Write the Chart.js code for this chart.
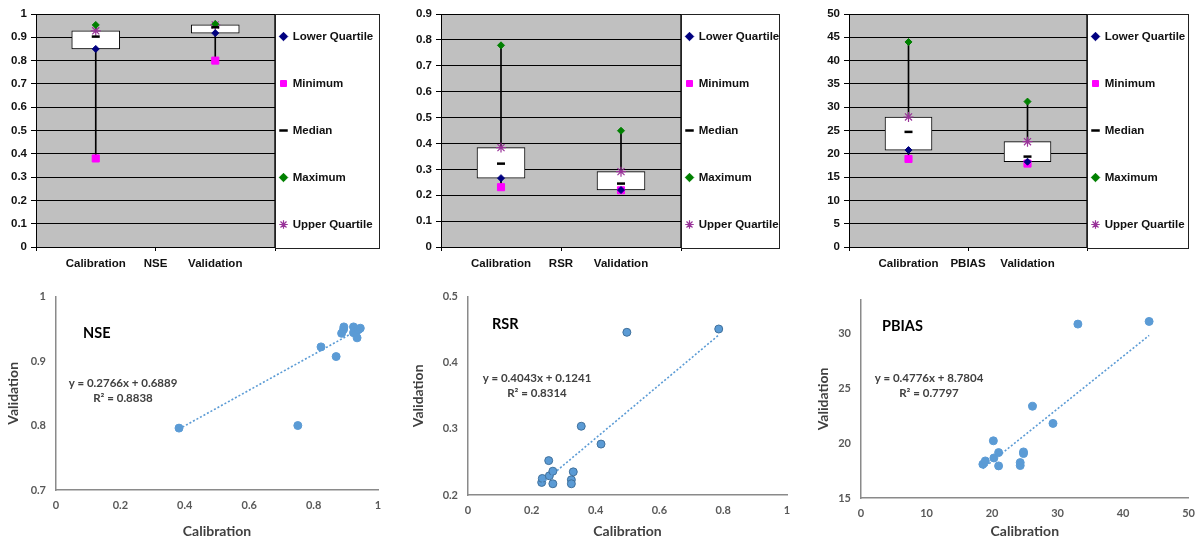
<!DOCTYPE html>
<html><head><meta charset="utf-8">
<script src="https://cdn.jsdelivr.net/npm/chart.js@4/dist/chart.umd.min.js"></script>
<style>
html,body{margin:0;padding:0;background:#fff;width:1204px;height:542px;overflow:hidden;position:relative}
canvas{position:absolute}
</style></head><body>
<canvas id="c1" width="386" height="280" style="left:0px;top:0px"></canvas>
<canvas id="c2" width="386" height="280" style="left:400px;top:0px"></canvas>
<canvas id="c3" width="390" height="280" style="left:805px;top:0px"></canvas>
<canvas id="c4" width="395" height="262" style="left:0px;top:280px"></canvas>
<canvas id="c5" width="400" height="262" style="left:400px;top:280px"></canvas>
<canvas id="c6" width="404" height="262" style="left:800px;top:280px"></canvas>
<script>
// ---------- data ----------
const boxCategories = ['Calibration', 'Validation'];
const statNames = ['Lower Quartile', 'Minimum', 'Median', 'Maximum', 'Upper Quartile'];

const nseMin    = [0.38, 0.80];
const nseQ1     = [0.85, 0.918];
const nseMedian = [0.903, 0.943];
const nseQ3     = [0.928, 0.953];
const nseMax    = [0.953, 0.957];

const rsrMin    = [0.231, 0.219];
const rsrQ1     = [0.266, 0.220];
const rsrMedian = [0.322, 0.245];
const rsrQ3     = [0.384, 0.291];
const rsrMax    = [0.779, 0.449];

const pbiasMin    = [18.9, 17.9];
const pbiasQ1     = [20.8, 18.3];
const pbiasMedian = [24.7, 19.4];
const pbiasQ3     = [27.9, 22.6];
const pbiasMax    = [44.0, 31.2];

const nseCal = [0.382, 0.751, 0.823, 0.870, 0.887, 0.893, 0.894, 0.924, 0.924, 0.933, 0.935, 0.940, 0.945];
const nseVal = [0.796, 0.800, 0.922, 0.907, 0.943, 0.949, 0.953, 0.953, 0.944, 0.946, 0.936, 0.949, 0.951];
const nseFit = [0.2766, 0.6889];
const nseR2 = '0.8838';

const rsrCal = [0.231, 0.233, 0.253, 0.255, 0.266, 0.266, 0.324, 0.324, 0.330, 0.355, 0.417, 0.498, 0.786];
const rsrVal = [0.219, 0.225, 0.252, 0.229, 0.236, 0.217, 0.223, 0.217, 0.235, 0.304, 0.277, 0.446, 0.451];
const rsrFit = [0.4043, 0.1241];
const rsrR2 = '0.8314';

const pbiasCal = [18.6, 18.97, 20.28, 20.2, 21.0, 21.0, 24.3, 24.3, 24.8, 24.8, 26.17, 29.3, 33.1, 43.97];
const pbiasVal = [18.07, 18.37, 18.64, 20.2, 19.13, 17.92, 18.22, 17.95, 19.19, 19.04, 23.34, 21.78, 30.81, 31.05];
const pbiasFit = [0.4776, 8.7804];
const pbiasR2 = '0.7797';

// ---------- helpers ----------
Chart.defaults.font.family = "'Liberation Sans', Arial, sans-serif";
const fmt = v => String(+Number(v).toFixed(3));

const framePlugin = {
  id: 'frame',
  beforeDraw(chart, args, opts) {
    if (!opts.bg) return;
    const {ctx, chartArea: a} = chart;
    ctx.save();
    ctx.fillStyle = opts.bg;
    ctx.fillRect(a.left, a.top, a.width, a.height);
    ctx.strokeStyle = opts.border || '#444';
    ctx.lineWidth = 1;
    ctx.strokeRect(Math.round(a.left) + 0.5, Math.round(a.top) + 0.5, Math.round(a.width) - 1, Math.round(a.height));
    ctx.restore();
  },
  afterDraw(chart, args, opts) {
    const ctx = chart.ctx;
    if (opts.legendBox) {
      const lg = chart.legend, a = chart.chartArea;
      ctx.save();
      ctx.strokeStyle = '#222';
      ctx.lineWidth = 1;
      ctx.strokeRect(Math.round(lg.left) + 0.5, Math.round(a.top) + 0.5, Math.round(lg.width) - 1, Math.round(a.height) + 1);
      ctx.restore();
    }
    if (opts.texts) {
      ctx.save();
      ctx.textBaseline = 'middle';
      opts.texts.forEach(t => {
        ctx.font = t.font;
        ctx.fillStyle = t.color;
        ctx.textAlign = t.align;
        ctx.fillText(t.text, t.x, t.y);
      });
      ctx.restore();
    }
  }
};
Chart.register(framePlugin);

function boxChart(id, o) {
  const xs = boxCategories.map((_, i) => i + 0.5);
  const pts = arr => arr.map((v, i) => ({x: xs[i], y: v}));
  const markerDefs = [
    {data: o.q1,  ps: 'rectRot', color: '#000080', r: 3.5, bw: 1},
    {data: o.min, ps: 'rect',    color: '#FF00FF', r: 5,   bw: 1},
    {data: o.med, ps: 'line',    color: '#000000', r: 4,   bw: 2.5},
    {data: o.max, ps: 'rectRot', color: '#008000', r: 3.5, bw: 1},
    {data: o.q3,  ps: 'star',    color: '#993399', r: 5,   bw: 1.2}
  ];
  const markers = markerDefs.map((m, i) => ({
    type: 'scatter', label: statNames[i], data: pts(m.data), isMarker: true,
    pointStyle: m.ps, pointRadius: m.r, pointHoverRadius: m.r,
    backgroundColor: m.color, borderColor: m.color, borderWidth: m.bw
  }));
  const defGen = Chart.defaults.plugins.legend.labels.generateLabels;
  new Chart(document.getElementById(id), {
    type: 'bar',
    data: {datasets: [
      ...markers,
      {type: 'bar', label: 'box', data: xs.map((x, i) => ({x, y: [o.q1[i], o.q3[i]]})),
       backgroundColor: '#FFFFFF', borderColor: '#000000', borderWidth: 1, borderSkipped: false,
       barThickness: o.boxW, grouped: false},
      {type: 'bar', label: 'range', data: xs.map((x, i) => ({x, y: [o.min[i], o.max[i]]})),
       backgroundColor: '#000000', borderWidth: 0, barThickness: 1, grouped: false}
    ]},
    options: {
      responsive: false, animation: false, devicePixelRatio: 1,
      layout: {padding: {left: o.pl, right: o.pr, top: 14, bottom: 0}},
      plugins: {
        tooltip: {enabled: false},
        frame: {bg: '#C0C0C0', border: '#404040', legendBox: true},
        legend: {
          position: 'right', align: 'center', fullSize: false, maxWidth: o.legendW,
          labels: {
            usePointStyle: true, boxWidth: 7, boxHeight: 6, padding: 5, color: '#111',
            font: {size: 11.5, weight: 'bold', lineHeight: 21 / 11.5},
            filter: (item, data) => !!data.datasets[item.datasetIndex].isMarker,
            generateLabels: chart => defGen(chart).map(it => {
              if (it.datasetIndex < 4) it.text = [it.text, ''];
              return it;
            })
          }
        }
      },
      scales: {
        x: {
          type: 'linear', min: 0, max: 2, offset: false,
          afterBuildTicks: s => { s.ticks = [0, 0.5, 1, 1.5, 2].map(v => ({value: v})); },
          afterFit: s => { s.height = 33; },
          ticks: {
            autoSkip: false, maxRotation: 0, minRotation: 0, padding: 6, color: '#111',
            font: {size: 11.5, weight: 'bold'},
            callback: v => v === 0.5 ? boxCategories[0] : v === 1.5 ? boxCategories[1] : v === 1 ? o.name : ''
          },
          grid: {
            drawOnChartArea: false, offset: false, drawTicks: true, tickLength: 4, color: '#000',
            tickColor: c => (c.tick && Number.isInteger(c.tick.value)) ? '#000' : 'rgba(0,0,0,0)'
          },
          border: {color: '#000', width: 1}
        },
        y: {
          type: 'linear', min: 0, max: o.ymax,
          afterFit: s => { s.width = o.wy; },
          ticks: {stepSize: o.step, padding: 4, color: '#111', font: {size: 11.5, weight: 'bold'}, callback: fmt},
          grid: {color: '#000', lineWidth: 1, drawTicks: true, tickLength: 5},
          border: {color: '#000', width: 1}
        }
      }
    }
  });
}

function scatterChart(id, o) {
  const pts = o.cal.map((c, i) => ({x: c, y: o.val[i]}));
  const lo = Math.min(...o.cal), hi = Math.max(...o.cal);
  const trend = [lo, hi].map(x => ({x, y: o.fit[0] * x + o.fit[1]}));
  const tickFont = {family: 'Lato', size: 11, weight: 'bold'};
  const titleFont = {family: 'Lato', size: 14, weight: 'bold'};
  new Chart(document.getElementById(id), {
    type: 'scatter',
    data: {datasets: [
      {type: 'line', data: trend, borderColor: '#5B9BD5', borderWidth: 1.6, borderDash: [2, 2],
       pointRadius: 0, fill: false},
      {data: pts, backgroundColor: '#5B9BD5', borderColor: o.ptBorder, borderWidth: 1, pointRadius: 4}
    ]},
    options: {
      responsive: false, animation: false, devicePixelRatio: 1,
      layout: {padding: {left: o.pl, right: o.pr, top: o.pt, bottom: 0}},
      plugins: {
        legend: {display: false}, tooltip: {enabled: false},
        frame: {texts: [
          {text: o.name, x: o.nameX, y: o.nameY, align: 'left', font: 'bold 14.5px Lato', color: '#000'},
          {text: 'y = ' + o.fit[0] + 'x + ' + o.fit[1], x: o.eqX, y: o.eqY, align: 'center', font: 'bold 11.5px Lato', color: '#404040'},
          {text: 'R\u00B2 = ' + o.r2, x: o.eqX, y: o.eqY + 15, align: 'center', font: 'bold 11.5px Lato', color: '#404040'}
        ]}
      },
      scales: {
        x: {
          type: 'linear', min: o.xmin, max: o.xmax,
          afterFit: s => { s.height = o.xh; },
          ticks: {stepSize: o.xstep, padding: 9, color: '#595959', font: tickFont, includeBounds: false, maxRotation: 0, callback: fmt},
          grid: {display: false, drawTicks: false},
          border: {color: '#8A8A8A', width: 1.5},
          title: {display: true, text: 'Calibration', color: '#404040', font: titleFont, padding: {top: 0, bottom: 2}}
        },
        y: {
          type: 'linear', min: o.ymin, max: o.ymax,
          afterFit: s => { s.width = o.wy; },
          ticks: {stepSize: o.ystep, padding: 10, color: '#595959', font: tickFont, includeBounds: false, callback: fmt},
          grid: {display: false, drawTicks: false},
          border: {color: '#8A8A8A', width: 1.5},
          title: {display: true, text: 'Validation', color: '#404040', font: titleFont, padding: {top: 5, bottom: 0}}
        }
      }
    }
  });
}

// ---------- top: box plots ----------
boxChart('c1', {name: 'NSE', q1: nseQ1, min: nseMin, med: nseMedian, max: nseMax, q3: nseQ3,
  ymax: 1, step: 0.1, wy: 36, pl: 0, pr: 6, legendW: 105, boxW: 48});
boxChart('c2', {name: 'RSR', q1: rsrQ1, min: rsrMin, med: rsrMedian, max: rsrMax, q3: rsrQ3,
  ymax: 0.9, step: 0.1, wy: 41, pl: 0, pr: 6, legendW: 99, boxW: 48});
boxChart('c3', {name: 'PBIAS', q1: pbiasQ1, min: pbiasMin, med: pbiasMedian, max: pbiasMax, q3: pbiasQ3,
  ymax: 50, step: 5, wy: 44, pl: 0, pr: 6, legendW: 102, boxW: 47});

// ---------- bottom: scatter plots ----------
scatterChart('c4', {name: 'NSE', cal: nseCal, val: nseVal, fit: nseFit, r2: nseR2, ptBorder: '#5B9BD5',
  xmin: 0, xmax: 1, xstep: 0.2, ymin: 0.7, ymax: 1, ystep: 0.1,
  pl: 0, pr: 17, pt: 15, wy: 56, xh: 52, nameX: 83, nameY: 53, eqX: 123, eqY: 103});
scatterChart('c5', {name: 'RSR', cal: rsrCal, val: rsrVal, fit: rsrFit, r2: rsrR2, ptBorder: '#41719C',
  xmin: 0, xmax: 1, xstep: 0.2, ymin: 0.2, ymax: 0.5, ystep: 0.1,
  pl: 5, pr: 13, pt: 11, wy: 63, xh: 47, nameX: 92, nameY: 44, eqX: 137, eqY: 98});
scatterChart('c6', {name: 'PBIAS', cal: pbiasCal, val: pbiasVal, fit: pbiasFit, r2: pbiasR2, ptBorder: '#5B9BD5',
  xmin: 0, xmax: 50, xstep: 10, ymin: 15, ymax: 33, ystep: 5,
  pl: 10, pr: 15, pt: 20, wy: 51, xh: 44, nameX: 82, nameY: 46, eqX: 129, eqY: 98});
</script>
</body></html>
